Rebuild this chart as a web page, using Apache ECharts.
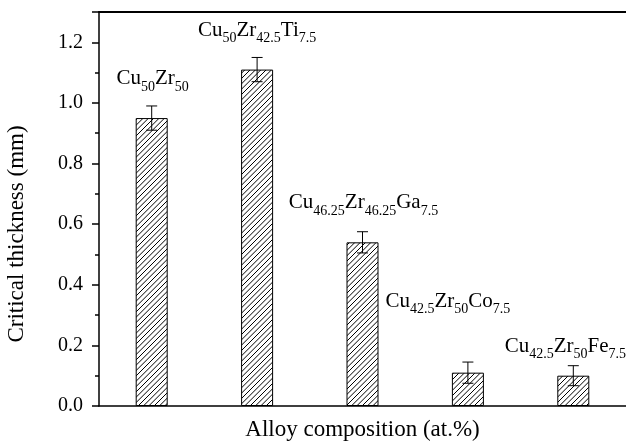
<!DOCTYPE html>
<html>
<head>
<meta charset="utf-8">
<script src="https://cdn.jsdelivr.net/npm/echarts@6/dist/echarts.min.js"></script>
<style>
  html, body { margin: 0; padding: 0; background: #fff; }
  #main { width: 626px; height: 441px; }
</style>
</head>
<body>
<div id="main"></div>
<script>
// alloy names as rich-text pieces: [main, sub, main, sub, ...]
const alloys = [
  ['Cu', '50', 'Zr', '50'],
  ['Cu', '50', 'Zr', '42.5', 'Ti', '7.5'],
  ['Cu', '46.25', 'Zr', '46.25', 'Ga', '7.5'],
  ['Cu', '42.5', 'Zr', '50', 'Co', '7.5'],
  ['Cu', '42.5', 'Zr', '50', 'Fe', '7.5']
]
const thickness = [0.95, 1.11, 0.54, 0.11, 0.10]
const errors = [0.04, 0.04, 0.035, 0.035, 0.033]
const yTicks = [0.0, 0.2, 0.4, 0.6, 0.8, 1.0, 1.2]
// label shifts [dx, dy] so the names sit where the figure put them
const labelShift = [[1, 0], [0, 0], [1, 0], [-20, -32], [-8, 10]]

const FONT = '"Liberation Serif", "DejaVu Serif", serif'

// "/" hatch, 3 lines per 16px tile (about 5.3px apart)
function hatch() {
  const s = 16
  const c = document.createElement('canvas')
  c.width = s
  c.height = s
  const g = c.getContext('2d')
  g.fillStyle = '#fff'
  g.fillRect(0, 0, s, s)
  g.strokeStyle = '#000'
  g.lineWidth = 1
  g.beginPath()
  for (let k = 0; k <= 6; k++) {
    const d = k * s / 3
    g.moveTo(-1, d + 1)
    g.lineTo(d + 1, -1)
  }
  g.stroke()
  return c
}

function richName(parts) {
  return parts.map((p, i) => (i % 2 ? '{s|' : '{n|') + p + '}').join('')
}

const chart = echarts.init(document.getElementById('main'))

chart.setOption({
  animation: false,
  grid: { left: 99, right: 0, top: 12, bottom: 35, outerBoundsMode: 'none', containLabel: false },
  xAxis: [{
    type: 'category',
    data: alloys.map(a => a.join('')),
    axisLine: { lineStyle: { color: '#000', width: 1.5 } },
    axisTick: { show: false },
    axisLabel: { show: false },
    name: 'Alloy composition (at.%)',
    nameLocation: 'middle',
    nameGap: 12,
    nameTextStyle: { fontFamily: FONT, fontSize: 23, color: '#000' }
  }, {
    type: 'category',
    position: 'top',
    data: alloys.map(a => a.join('')),
    axisLine: { lineStyle: { color: '#000', width: 2 } },
    axisTick: { show: false },
    axisLabel: { show: false }
  }],
  yAxis: {
    type: 'value',
    min: 0,
    max: 1.3,
    interval: 0.2,
    axisLine: { show: true, lineStyle: { color: '#000', width: 1.5 } },
    axisTick: { show: true, length: 7, lineStyle: { color: '#000', width: 1.5 } },
    minorTick: { show: true, splitNumber: 2, length: 4, lineStyle: { color: '#000', width: 1.5 } },
    splitLine: { show: false },
    axisLabel: {
      margin: 16,
      fontFamily: FONT,
      fontSize: 20,
      color: '#000',
      formatter: v => yTicks.some(t => Math.abs(t - v) < 1e-9) ? v.toFixed(1) : ''
    },
    name: 'Critical thickness (mm)',
    nameLocation: 'middle',
    nameGap: 71,
    nameTextStyle: { fontFamily: FONT, fontSize: 23, color: '#000', padding: [0, 50, 0, 0] }
  },
  series: [{
    type: 'bar',
    barWidth: 32,
    data: thickness.map((v, i) => ({
      value: v,
      label: {
        show: true,
        position: 'top',
        distance: 24,
        offset: labelShift[i],
        formatter: richName(alloys[i])
      }
    })),
    itemStyle: {
      color: { image: hatch(), repeat: 'repeat' },
      borderColor: '#000',
      borderWidth: 1
    },
    label: {
      fontFamily: FONT,
      color: '#000',
      rich: {
        n: { fontFamily: FONT, fontSize: 21, color: '#000', verticalAlign: 'top', padding: [0, 0, 5, 0] },
        s: { fontFamily: FONT, fontSize: 14, color: '#000', verticalAlign: 'bottom' }
      }
    },
    z: 2
  }, {
    type: 'custom',
    data: thickness.map((v, i) => [i, v - errors[i], v + errors[i]]),
    renderItem: (params, api) => {
      const lo = api.coord([api.value(0), api.value(1)])
      const hi = api.coord([api.value(0), api.value(2)])
      const w = 5.5
      const st = { stroke: '#000', lineWidth: 1 }
      return {
        type: 'group',
        children: [
          { type: 'line', shape: { x1: hi[0], y1: hi[1], x2: lo[0], y2: lo[1] }, style: st },
          { type: 'line', shape: { x1: hi[0] - w, y1: hi[1], x2: hi[0] + w, y2: hi[1] }, style: st },
          { type: 'line', shape: { x1: lo[0] - w, y1: lo[1], x2: lo[0] + w, y2: lo[1] }, style: st }
        ]
      }
    },
    z: 3
  }]
})
</script>
</body>
</html>
